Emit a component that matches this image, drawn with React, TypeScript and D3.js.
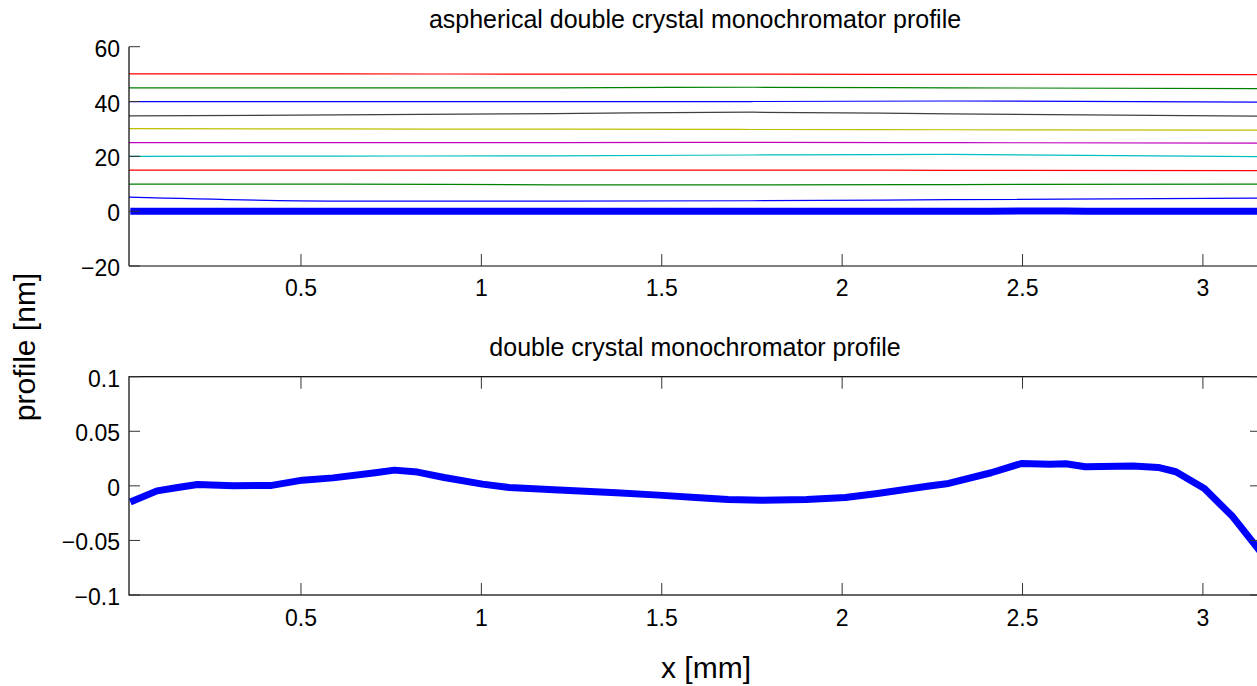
import React from "react";
import * as d3 from "d3";

// ---- data ----
const xLimits = [0.0233, 3.161];
const topYLimits = [-20, 60];
const botYLimits = [-0.1, 0.1];

const topXTicks = [0.5, 1, 1.5, 2, 2.5, 3];
const topYTicks = [-20, 0, 20, 40, 60];
const botYTicks = [-0.1, -0.05, 0, 0.05, 0.1];
const botYTickLabels = ["\u22120.1", "\u22120.05", "0", "0.05", "0.1"];

// bottom profile (nm) sampled along x (mm)
const profileX = [
  0.027, 0.101, 0.154, 0.213, 0.313, 0.419, 0.504, 0.589, 0.706, 0.759, 0.823, 0.897,
  1.003, 1.077, 1.215, 1.374, 1.491, 1.605, 1.684, 1.778, 1.901, 2.009, 2.098, 2.236,
  2.295, 2.413, 2.497, 2.576, 2.62, 2.674, 2.807, 2.876, 2.925, 3.004, 3.083, 3.161,
];
const profileY = [
  -0.0147, -0.0046, -0.0018, 0.0013, 0.0, 0.0004, 0.0052, 0.0073, 0.012, 0.0144, 0.0126, 0.0077,
  0.0016, -0.0015, -0.0039, -0.0064, -0.0085, -0.011, -0.0125, -0.0131, -0.0125, -0.0107, -0.007, -0.0003,
  0.0022, 0.012, 0.0205, 0.0199, 0.0202, 0.0175, 0.0181, 0.0169, 0.0129, -0.0024, -0.0284, -0.061,
];

// offset aspherical profiles (nm), sampled at these x positions
const offsetX = [0.0233, 0.6, 1.2, 1.75, 2.3, 3.161];
const offsetSeries = [
  [5.1, 3.7, 3.7, 3.8, 4.2, 4.8],
  [9.9, 9.9, 9.6, 9.6, 9.7, 9.9],
  [15.0, 15.0, 15.0, 15.0, 14.9, 14.8],
  [20.0, 20.1, 20.2, 20.5, 20.7, 19.9],
  [25.0, 25.0, 25.0, 25.1, 25.0, 24.8],
  [30.1, 30.0, 29.9, 29.8, 29.7, 29.6],
  [34.8, 35.1, 35.6, 36.1, 35.5, 34.7],
  [40.0, 40.0, 40.0, 40.0, 40.2, 39.8],
  [45.0, 45.0, 45.0, 45.2, 45.0, 44.7],
  [50.1, 50.1, 50.0, 50.0, 49.9, 49.8],
];
const offsetColors = [
  "#0000ff", "#008000", "#ff0000", "#00bfbf", "#bf00bf",
  "#bfbf00", "#404040", "#0000ff", "#008000", "#ff0000",
];

const titleTop = "aspherical double crystal monochromator profile";
const titleBot = "double crystal monochromator profile";
const yLabel = "profile [nm]";
const xLabel = "x [mm]";

// ---- layout ----
const W = 1257;
const H = 686;
const left = 129;
const right = 1261;
const FONT = "'Liberation Sans', Arial, Helvetica, sans-serif";
const TICK = 11;

export default function App() {
  const x = d3.scaleLinear().domain(xLimits).range([left, right]);
  const yT = d3.scaleLinear().domain(topYLimits).range([266, 46.7]);
  const yB = d3.scaleLinear().domain(botYLimits).range([595, 376.7]);

  const profile = profileX.map((v, i) => [v, profileY[i]] as [number, number]);
  const lineT = d3.line<[number, number]>().x((d) => x(d[0])).y((d) => yT(d[1]));
  const lineB = d3.line<[number, number]>().x((d) => x(d[0])).y((d) => yB(d[1]));
  const lineSmooth = d3
    .line<[number, number]>()
    .x((d) => x(d[0]))
    .y((d) => yT(d[1]))
    .curve(d3.curveMonotoneX);

  const tickColor = "#333";
  const fmt = (v: number) => String(v);

  return (
    <svg
      width={W}
      height={H}
      style={{ position: "absolute", left: 0, top: 0, background: "#fff" }}
      fontFamily={FONT}
    >
      <rect x={0} y={0} width={W} height={H} fill="#fff" />
      <defs>
        <clipPath id="clipT">
          <rect x={left} y={46.7} width={right - left} height={266 - 46.7} />
        </clipPath>
        <clipPath id="clipB">
          <rect x={left} y={376.7} width={right - left} height={595 - 376.7} />
        </clipPath>
      </defs>

      {/* ---------- top chart ---------- */}
      <text x={(left + right) / 2} y={28} fontSize={25} textAnchor="middle" fill="#000">
        {titleTop}
      </text>
      <g clipPath="url(#clipT)">
        {offsetSeries.map((s, i) => (
          <path
            key={i}
            d={lineSmooth(offsetX.map((v, j) => [v, s[j]] as [number, number])) || ""}
            fill="none"
            stroke={offsetColors[i]}
            strokeWidth={1.2}
          />
        ))}
        <path d={lineT(profile) || ""} fill="none" stroke="#0000ff" strokeWidth={7} />
      </g>
      {/* axes */}
      <line x1={left} x2={left} y1={46.7} y2={266} stroke="#000" strokeWidth={1.2} />
      <line x1={left} x2={right} y1={266} y2={266} stroke="#000" strokeWidth={1.2} />
      {topXTicks.map((t) => (
        <g key={"tx" + t}>
          <line x1={x(t)} x2={x(t)} y1={266} y2={266 - 12} stroke={tickColor} />
          <text x={x(t)} y={296} fontSize={23} textAnchor="middle" fill="#000">
            {fmt(t)}
          </text>
        </g>
      ))}
      {topYTicks.map((t) => (
        <g key={"ty" + t}>
          <line x1={left} x2={left + TICK} y1={yT(t)} y2={yT(t)} stroke={tickColor} />
          <text x={120} y={yT(t) + 10} fontSize={23} textAnchor="end" fill="#000">
            {t < 0 ? "\u2212" + Math.abs(t) : fmt(t)}
          </text>
        </g>
      ))}

      {/* ---------- bottom chart ---------- */}
      <text x={(left + right) / 2} y={356} fontSize={25} textAnchor="middle" fill="#000">
        {titleBot}
      </text>
      <g clipPath="url(#clipB)">
        <path
          d={lineB(profile) || ""}
          fill="none"
          stroke="#0000ff"
          strokeWidth={7}
          strokeLinejoin="round"
        />
      </g>
      <rect
        x={left}
        y={376.7}
        width={right - left}
        height={595 - 376.7}
        fill="none"
        stroke="#000"
        strokeWidth={1.2}
      />
      {topXTicks.map((t) => (
        <g key={"bx" + t}>
          <line x1={x(t)} x2={x(t)} y1={595} y2={595 - 12} stroke={tickColor} />
          <line x1={x(t)} x2={x(t)} y1={376.7} y2={376.7 + 12} stroke={tickColor} />
          <text x={x(t)} y={626} fontSize={23} textAnchor="middle" fill="#000">
            {fmt(t)}
          </text>
        </g>
      ))}
      {botYTicks.map((t, i) => (
        <g key={"by" + t}>
          <line x1={left} x2={left + TICK} y1={yB(t)} y2={yB(t)} stroke={tickColor} />
          <line x1={right} x2={right - TICK} y1={yB(t)} y2={yB(t)} stroke={tickColor} />
          <text x={120} y={yB(t) + 10} fontSize={23} textAnchor="end" fill="#000">
            {botYTickLabels[i]}
          </text>
        </g>
      ))}

      {/* shared labels */}
      <text
        transform={`translate(35, 347) rotate(-90)`}
        fontSize={30}
        textAnchor="middle"
        fill="#000"
      >
        {yLabel}
      </text>
      <text x={706} y={678} fontSize={30} textAnchor="middle" fill="#000">
        {xLabel}
      </text>
    </svg>
  );
}
